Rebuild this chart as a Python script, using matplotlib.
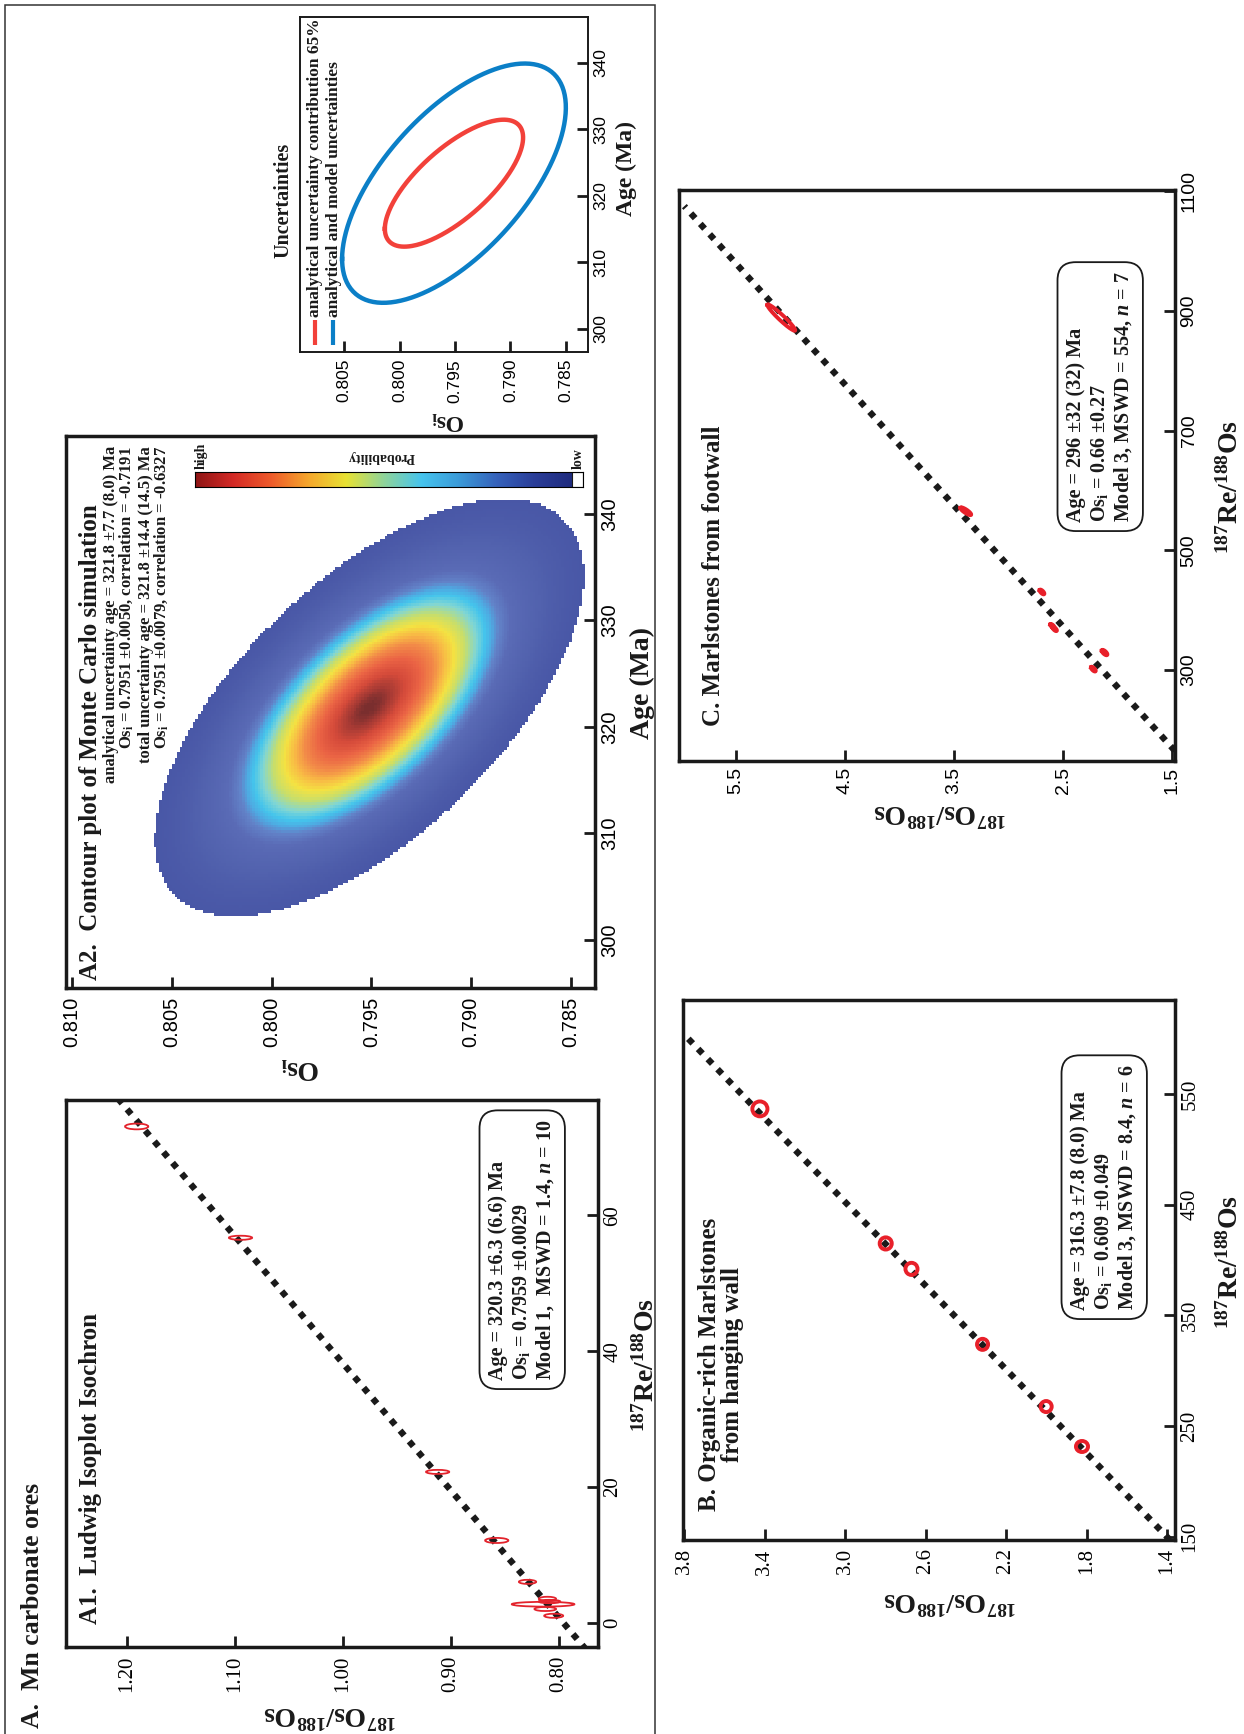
import numpy as np
import matplotlib
matplotlib.use('Agg')
import matplotlib.pyplot as plt
from matplotlib.patches import Ellipse, Rectangle
from matplotlib.colors import LinearSegmentedColormap

W, H = 1244, 1734
ink = '#1a1a1a'

plt.rcParams['font.family'] = ['Liberation Serif', 'DejaVu Serif']
plt.rcParams['mathtext.fontset'] = 'custom'
plt.rcParams['mathtext.rm'] = 'Liberation Serif:bold'
plt.rcParams['mathtext.it'] = 'Liberation Serif:italic:bold'
plt.rcParams['mathtext.bf'] = 'Liberation Serif:bold'

# ---------------- data ----------------
# A1. Ludwig Isoplot isochron (Mn carbonate ores)
a1_re = [73.1, 56.7, 22.2, 12.1, 6.0, 3.5, 3.1, 2.7, 2.0, 1.0]
a1_os = [1.1906, 1.0945, 0.9121, 0.8574, 0.8289, 0.8105, 0.8086, 0.8145, 0.8125, 0.8047]
a1_w = [0.0215, 0.0215, 0.0215, 0.0215, 0.0160, 0.0160, 0.0200, 0.0580, 0.0200, 0.0176]
a1_h = [0.85, 0.6, 0.6, 0.75, 0.6, 0.6, 0.5, 0.7, 0.6, 0.6]
a1_line_re = [-4.0, 77.0]
a1_line_os = [0.7746, 1.2068]
a1_os_ticks = [1.20, 1.10, 1.00, 0.90, 0.80]
a1_os_labels = ['1.20', '1.10', '1.00', '0.90', '0.80']
a1_re_ticks = [0, 20, 40, 60]
a1_re_labels = ['0', '20', '40', '60']

# A2. Monte Carlo simulation (total uncertainty)
mc_age, mc_os = 321.8, 0.7951
mc_sig_age, mc_sig_os = 7.2, 0.00395
mc_rho = -0.6327
mc_rmax = 2.72
a2_os_ticks = [0.810, 0.805, 0.800, 0.795, 0.790, 0.785]
a2_os_labels = ['0.810', '0.805', '0.800', '0.795', '0.790', '0.785']
age_ticks = [300, 310, 320, 330, 340]
age_labels = ['300', '310', '320', '330', '340']

# Uncertainty ellipses (center, half extents, correlation)
unc_age, unc_os = 321.9, 0.7951
unc_red = dict(half_age=9.55, half_os=0.00624, rho=-0.7191)
unc_blue = dict(half_age=18.0, half_os=0.0101, rho=-0.6327)
unc_os_ticks = [0.805, 0.800, 0.795, 0.790, 0.785]
unc_os_labels = ['0.805', '0.800', '0.795', '0.790', '0.785']

# B. Organic-rich marlstones, hanging wall
b_re = [536.6, 415.0, 392.0, 323.8, 267.6, 231.5]
b_os = [3.423, 2.798, 2.670, 2.317, 2.001, 1.823]
b_w = [0.075, 0.060, 0.060, 0.055, 0.055, 0.060]
b_h = [13.5, 11.0, 11.0, 10.0, 10.0, 10.0]
b_line_re = [147.0, 604.0]
b_line_os = [1.386, 3.800]
b_os_ticks = [3.8, 3.4, 3.0, 2.6, 2.2, 1.8, 1.4]
b_os_labels = ['3.8', '3.4', '3.0', '2.6', '2.2', '1.8', '1.4']
b_re_ticks = [150, 250, 350, 450, 550]
b_re_labels = ['150', '250', '350', '450', '550']

# C. Marlstones, footwall
c_re = [888.8, 565.3, 430.4, 373.5, 368.5, 329.2, 301.5]
c_os = [5.086, 3.394, 2.695, 2.600, 2.578, 2.121, 2.224]
c_half_os = [0.128, 0.050, 0.022, 0.020, 0.020, 0.026, 0.022]
c_half_re = [22.0, 6.5, 4.0, 3.5, 3.5, 4.5, 4.0]
c_rho = [0.96, 0.85, 0.7, 0.7, 0.7, 0.7, 0.7]
c_line_re = [165.0, 1075.0]
c_line_os = [1.476, 5.975]
c_os_ticks = [5.5, 4.5, 3.5, 2.5, 1.5]
c_os_labels = ['5.5', '4.5', '3.5', '2.5', '1.5']
c_re_ticks = [300, 500, 700, 900, 1100]
c_re_labels = ['300', '500', '700', '900', '1100']


# ---------------- helpers ----------------
def P(x, y):
    return x / W, 1 - y / H


def box(x0, y0, x1, y1):
    return [x0 / W, 1 - y1 / H, (x1 - x0) / W, (y1 - y0) / H]


def setup(ax, xlim, ylim, xt, xl, yt, yl, family, lw=2.5, size=15, xpad=6):
    ax.set_xlim(*xlim)
    ax.set_ylim(*ylim)
    ax.set_xticks(xt)
    ax.set_xticklabels(xl)
    ax.set_yticks(yt)
    ax.set_yticklabels(yl)
    ax.yaxis.tick_right()
    ax.tick_params(axis='x', direction='in', length=8, width=2, color=ink,
                   labelrotation=90, pad=xpad, labelsize=size, labelfontfamily=family)
    ax.tick_params(axis='y', direction='in', length=8, width=2, color=ink,
                   labelrotation=90, pad=4, labelsize=size, labelfontfamily=family)
    for lbl in ax.get_yticklabels():
        lbl.set_va('center')
    for s in ax.spines.values():
        s.set_linewidth(lw)
        s.set_color(ink)


def isochron(ax, xs, ys):
    ax.plot(xs, ys, color=ink, lw=4.6, linestyle=(0, (1, 1.2)),
            dash_capstyle='butt', zorder=2)


def corr_ellipse(ax, cx, cy, hx, hy, rho, **kw):
    t = np.linspace(0, 2 * np.pi, 240)
    ax.plot(cx + hx * np.cos(t),
            cy + hy * (rho * np.cos(t) + np.sqrt(1 - rho ** 2) * np.sin(t)), **kw)


def ftext(x, y, s, **kw):
    kw.setdefault('color', ink)
    return fig.text(*P(x, y), s, **kw)


ratio_re = r'$^{\mathregular{187}}$Re/$^{\mathregular{188}}$Os'
ratio_os = r'$^{\mathregular{187}}$Os/$^{\mathregular{188}}$Os'
osi = r'Os$_{\mathregular{i}}$'
pm = '\u00b1'
boxstyle = dict(boxstyle='round,pad=0.45,rounding_size=0.9', fc='white', ec=ink, lw=1.3)

fig = plt.figure(figsize=(W / 100, H / 100), dpi=100)

# outer frame of part A
fig.add_artist(Rectangle((5 / W, 1 - 1760 / H), 650 / W, 1755 / H, fill=False,
                         lw=1.1, ec='#333333', transform=fig.transFigure))

# ---------------- A1 ----------------
ax1 = fig.add_axes(box(66, 1100, 598, 1647))
setup(ax1, (1.256, 0.7637), (-3.6, 77.0), a1_os_ticks, a1_os_labels,
      a1_re_ticks, a1_re_labels, 'Liberation Serif')
isochron(ax1, a1_line_os, a1_line_re)
for x, y, w, h in zip(a1_os, a1_re, a1_w, a1_h):
    ax1.add_patch(Ellipse((x, y), w, h, fill=False, ec='#e3232c', lw=1.3, zorder=3))

ftext(33, 1728, 'A.  Mn carbonate ores', rotation=90, ha='center', va='bottom',
      fontsize=18.5, fontweight='bold')
ftext(91, 1624, 'A1.  Ludwig Isoplot Isochron', rotation=90, ha='center', va='bottom',
      fontsize=18, fontweight='bold')
ftext(522, 1380,
      f'Age = 320.3 {pm}6.3 (6.6) Ma\n{osi} = 0.7959 {pm}0.0029\nModel 1,  MSWD = 1.4, $n$ = 10',
      rotation=90, ha='center', va='bottom', multialignment='left', fontsize=14.5,
      fontweight='bold', linespacing=1.15, bbox=boxstyle)
ftext(646, 1365, ratio_re, rotation=90, ha='center', va='center', fontsize=20, fontweight='bold')
ftext(330, 1714, ratio_os, rotation=180, ha='center', va='center', fontsize=20, fontweight='bold')

# ---------------- A2 ----------------
ax2 = fig.add_axes(box(66, 436, 595, 988))
setup(ax2, (0.8103, 0.7838), (295.5, 347.3), a2_os_ticks, a2_os_labels,
      age_ticks, age_labels, 'Liberation Sans', size=14.5)

age_edges = np.arange(295.5, 347.6, 0.26)
os_edges = np.arange(0.7838, 0.8104, 0.00013)
ac = (age_edges[:-1] + age_edges[1:]) / 2
oc = (os_edges[:-1] + os_edges[1:]) / 2
OO, AA = np.meshgrid(oc, ac)
za = (AA - mc_age) / mc_sig_age
zo = (OO - mc_os) / mc_sig_os
r2 = (za ** 2 - 2 * mc_rho * za * zo + zo ** 2) / (1 - mc_rho ** 2)
dens = np.ma.masked_where(r2 > mc_rmax ** 2, np.exp(-r2 / 2))

mc_cmap = LinearSegmentedColormap.from_list('mc', [
    (0.00, '#4654a4'), (0.10, '#5262ae'), (0.20, '#5a6bb6'), (0.26, '#6282c8'),
    (0.30, '#4eaae2'), (0.34, '#44c4ec'), (0.40, '#80d6d4'), (0.48, '#c8de6a'),
    (0.56, '#f4e242'), (0.64, '#f8b845'), (0.72, '#f28a48'), (0.82, '#ea6244'),
    (0.91, '#d44a3a'), (0.97, '#a63a34'), (1.00, '#7a2e2e')])
ax2.pcolormesh(os_edges, age_edges, dens, cmap=mc_cmap, vmin=0, vmax=1, shading='flat', zorder=1)

ftext(91, 980, 'A2.  Contour plot of Monte Carlo simulation', rotation=90, ha='center',
      va='bottom', fontsize=18, fontweight='bold')
small = dict(rotation=90, ha='center', va='top', fontsize=12, fontweight='bold')
ftext(111, 446, f'analytical uncertainty age = 321.8 {pm}7.7 (8.0) Ma', **small)
ftext(126, 446, f'{osi} = 0.7951 {pm}0.0050, correlation = -0.7191', **small)
ftext(146, 446, f'total uncertainty age = 321.8 {pm}14.4 (14.5) Ma', **small)
ftext(161, 446, f'{osi} = 0.7951 {pm}0.0079, correlation = -0.6327', **small)

# probability colour bar
cbar_cmap = LinearSegmentedColormap.from_list('cb', [
    '#1f2b7e', '#2a3d98', '#3562bb', '#3b9ad8', '#46c4ee', '#8fd49a',
    '#e8e234', '#f5a72c', '#ee5a2a', '#d42a26', '#8e1515'])
cax = fig.add_axes(box(195, 472, 583, 487))
cax.imshow(np.linspace(1, 0, 256)[None, :], aspect='auto', cmap=cbar_cmap,
           extent=[0, 0.972, 0, 1])
cax.add_patch(Rectangle((0.972, 0), 0.028, 1, fc='white', ec=ink, lw=0.8))
cax.set_xlim(0, 1)
cax.set_ylim(0, 1)
cax.set_xticks([])
cax.set_yticks([])
for s in cax.spines.values():
    s.set_linewidth(0.8)
ftext(201, 469, 'high', rotation=90, ha='center', va='bottom', fontsize=10, fontweight='bold')
ftext(578, 469, 'low', rotation=90, ha='center', va='bottom', fontsize=10, fontweight='bold')
ftext(381, 457, 'Probability', rotation=180, ha='center', va='center', fontsize=10,
      fontweight='bold')

ftext(642, 683, 'Age (Ma)', rotation=90, ha='center', va='center', fontsize=20, fontweight='bold')
ftext(300, 1068, osi, rotation=180, ha='center', va='center', fontsize=20, fontweight='bold')

# ---------------- Uncertainties ----------------
axu = fig.add_axes(box(300, 17, 588, 352))
setup(axu, (0.8090, 0.7830), (296.5, 346.9), unc_os_ticks, unc_os_labels,
      age_ticks, age_labels, 'Liberation Sans', lw=1.4, size=12.5, xpad=5)
corr_ellipse(axu, unc_os, unc_age, unc_blue['half_os'], unc_blue['half_age'],
             unc_blue['rho'], color='#0b7fc7', lw=3.2)
corr_ellipse(axu, unc_os, unc_age, unc_red['half_os'], unc_red['half_age'],
             unc_red['rho'], color='#f2413a', lw=3.2)
axu.plot([15 / 288, 15 / 288], [7 / 335, 32 / 335], color='#f2413a', lw=3,
         transform=axu.transAxes, solid_capstyle='butt')
axu.plot([33 / 288, 33 / 288], [7 / 335, 32 / 335], color='#0b7fc7', lw=3,
         transform=axu.transAxes, solid_capstyle='butt')
ftext(315, 317, 'analytical uncertainty contribution 65%', rotation=90, ha='center',
      va='bottom', fontsize=12.5, fontweight='bold')
ftext(334, 317, 'analytical and model uncertainties', rotation=90, ha='center',
      va='bottom', fontsize=12.5, fontweight='bold')
ftext(283, 200, 'Uncertainties', rotation=90, ha='center', va='center', fontsize=14.5,
      fontweight='bold')
ftext(626, 168, 'Age (Ma)', rotation=90, ha='center', va='center', fontsize=17,
      fontweight='bold')
ftext(448, 420, osi, rotation=180, ha='center', va='center', fontsize=17, fontweight='bold')

# ---------------- B ----------------
axb = fig.add_axes(box(683, 1000, 1175, 1540))
setup(axb, (3.805, 1.361), (147.0, 635.0), b_os_ticks, b_os_labels,
      b_re_ticks, b_re_labels, 'Liberation Serif')
isochron(axb, b_line_os, b_line_re)
for x, y, w, h in zip(b_os, b_re, b_w, b_h):
    axb.add_patch(Ellipse((x, y), w, h, fill=False, ec='#e8202a', lw=2.8, zorder=3))

ftext(721, 1364, 'B. Organic-rich Marlstones\nfrom hanging wall', rotation=90,
      ha='center', va='center', multialignment='center', fontsize=18,
      fontweight='bold', linespacing=1.0)
ftext(1104, 1310,
      f'Age = 316.3 {pm}7.8 (8.0) Ma\n{osi} = 0.609 {pm}0.049\nModel 3, MSWD = 8.4, $n$ = 6',
      rotation=90, ha='center', va='bottom', multialignment='left', fontsize=14.5,
      fontweight='bold', linespacing=1.15, bbox=boxstyle)
ftext(1230, 1262, ratio_re, rotation=90, ha='center', va='center', fontsize=20, fontweight='bold')
ftext(950, 1600, ratio_os, rotation=180, ha='center', va='center', fontsize=20, fontweight='bold')

# ---------------- C ----------------
axc = fig.add_axes(box(679, 190, 1175, 761))
setup(axc, (6.024, 1.475), (148.0, 1102.0), c_os_ticks, c_os_labels,
      c_re_ticks, c_re_labels, 'Liberation Sans', size=14, xpad=4)
isochron(axc, c_line_os, c_line_re)
for x, y, hx, hy, r in zip(c_os, c_re, c_half_os, c_half_re, c_rho):
    corr_ellipse(axc, x, y, hx, hy, r, color='#e8202a', lw=2.8, zorder=3)

ftext(713, 726, 'C. Marlstones from footwall', rotation=90, ha='center', va='bottom',
      fontsize=18, fontweight='bold')
ftext(1100, 522,
      f'Age = 296 {pm}32 (32) Ma\n{osi} = 0.66 {pm}0.27\nModel 3, MSWD = 554, $n$ = 7',
      rotation=90, ha='center', va='bottom', multialignment='left', fontsize=14.5,
      fontweight='bold', linespacing=1.15, bbox=boxstyle)
ftext(1230, 487, ratio_re, rotation=90, ha='center', va='center', fontsize=20, fontweight='bold')
ftext(940, 812, ratio_os, rotation=180, ha='center', va='center', fontsize=20, fontweight='bold')

fig.savefig('out.png', dpi=100)
